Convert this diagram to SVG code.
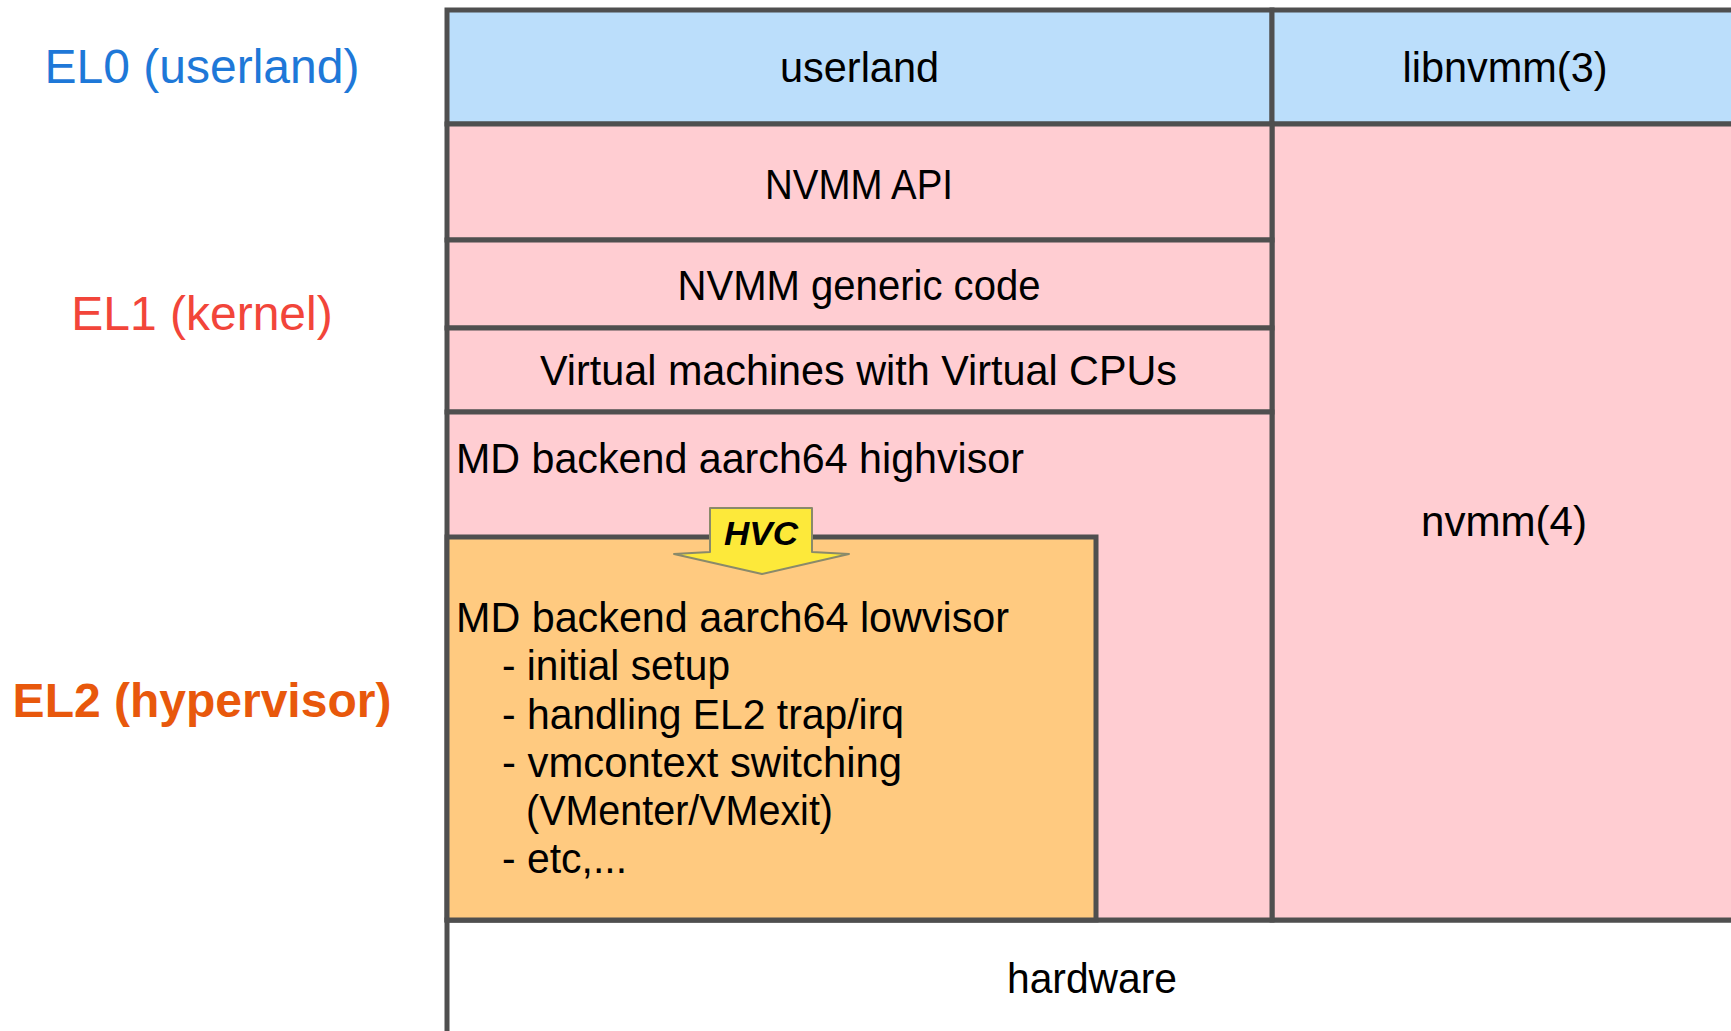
<svg xmlns="http://www.w3.org/2000/svg" width="1731" height="1031" viewBox="0 0 1731 1031">
<style>
.box{stroke:#4f4f4f;stroke-width:5}
.blue{fill:#bbdefb}
.pink{fill:#ffcdd2}
.orange{fill:#ffca80}
.white{fill:#ffffff}
.t{font-family:"Liberation Sans",Arial,sans-serif;font-size:42px;fill:#000}
.c{text-anchor:middle}
.lbl{font-family:"Liberation Sans",Arial,sans-serif;font-size:48px;text-anchor:middle}
</style>
<rect width="1731" height="1031" fill="#ffffff"/>
<g id="labels">
<text class="lbl" x="202" y="83" fill="#1e78d8">EL0 (userland)</text>
<text class="lbl" x="202" y="330" fill="#f2453a">EL1 (kernel)</text>
<text class="lbl" x="202" y="717" fill="#e8580c" font-weight="bold">EL2 (hypervisor)</text>
</g>
<g id="hardware">
<rect class="box white" x="447" y="920" width="1300" height="140"/>
<text class="t c" x="1092" y="993" textLength="170" lengthAdjust="spacingAndGlyphs">hardware</text>
</g>
<g id="userland">
<rect class="box blue" x="447" y="10" width="825" height="114"/>
<text class="t c" x="859.5" y="82" textLength="159" lengthAdjust="spacingAndGlyphs">userland</text>
</g>
<g id="libnvmm">
<rect class="box blue" x="1272" y="10" width="480" height="114"/>
<text class="t c" x="1505" y="82" textLength="205" lengthAdjust="spacingAndGlyphs">libnvmm(3)</text>
</g>
<g id="nvmm">
<rect class="box pink" x="1272" y="124" width="480" height="796"/>
<text class="t c" x="1504" y="536" textLength="166" lengthAdjust="spacingAndGlyphs">nvmm(4)</text>
</g>
<g id="nvmm-api">
<rect class="box pink" x="447" y="124" width="825" height="116"/>
<text class="t c" x="859" y="199" textLength="188" lengthAdjust="spacingAndGlyphs">NVMM API</text>
</g>
<g id="generic">
<rect class="box pink" x="447" y="240" width="825" height="88"/>
<text class="t c" x="859" y="300" textLength="363" lengthAdjust="spacingAndGlyphs">NVMM generic code</text>
</g>
<g id="vm">
<rect class="box pink" x="447" y="328" width="825" height="84"/>
<text class="t c" x="858.5" y="385" textLength="637" lengthAdjust="spacingAndGlyphs">Virtual machines with Virtual CPUs</text>
</g>
<g id="highvisor">
<rect class="box pink" x="447" y="412" width="825" height="508"/>
<text class="t" x="456" y="473" textLength="568" lengthAdjust="spacingAndGlyphs">MD backend aarch64 highvisor</text>
</g>
<g id="lowvisor">
<rect class="box orange" x="447" y="537" width="649" height="383"/>
<text class="t" x="456" y="632" textLength="553" lengthAdjust="spacingAndGlyphs">MD backend aarch64 lowvisor</text>
<text class="t" x="502" y="680" textLength="228" lengthAdjust="spacingAndGlyphs">- initial setup</text>
<text class="t" x="502" y="729" textLength="402" lengthAdjust="spacingAndGlyphs">- handling EL2 trap/irq</text>
<text class="t" x="502" y="777" textLength="400" lengthAdjust="spacingAndGlyphs">- vmcontext switching</text>
<text class="t" x="526" y="825" textLength="307" lengthAdjust="spacingAndGlyphs">(VMenter/VMexit)</text>
<text class="t" x="502" y="873" textLength="125" lengthAdjust="spacingAndGlyphs">- etc,...</text>
</g>
<g id="connectors">
<g id="hvc">
<polygon points="710,508 812,508 812,552 849,554 762,574 674,554 710,552" fill="#fde93a" stroke="#8a8a6a" stroke-width="2" stroke-linejoin="round"/>
<text x="761" y="545" font-family="'Liberation Sans',Arial,sans-serif" font-size="33" font-weight="bold" font-style="italic" text-anchor="middle" textLength="74" lengthAdjust="spacingAndGlyphs">HVC</text>
</g>
</g>
</svg>
